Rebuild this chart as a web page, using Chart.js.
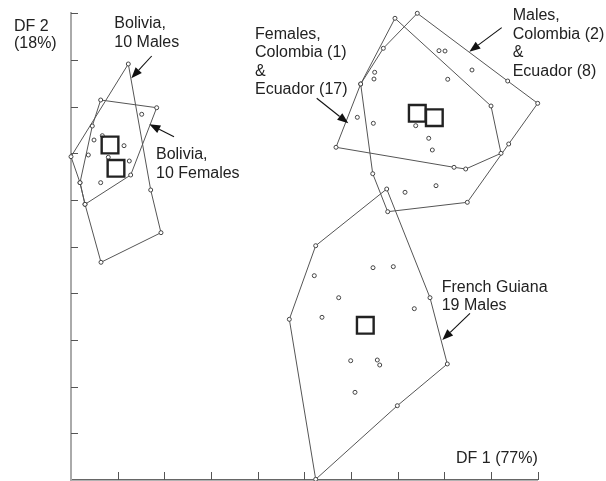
<!DOCTYPE html>
<html>
<head>
<meta charset="utf-8">
<script src="https://cdn.jsdelivr.net/npm/chart.js@4/dist/chart.umd.min.js"></script>
<style>
  body { margin:0; background:#fff; }
  canvas { display:block; }
</style>
</head>
<body>
<canvas id="dfa" width="606" height="481"></canvas>
<script>
// discriminant function scores, DF 1 (x) vs DF 2 (y)
// hull = convex hull vertices in drawing order, inner = remaining specimens
const bolMalesHull = [
  {x:1.228,y:8.914},{x:1.708,y:6.214},{x:1.928,y:5.299},{x:0.643,y:4.665},
  {x:0.300,y:5.907},{x:0.193,y:6.371},{x:0.000,y:6.928}
];
const bolMalesInner = [{x:0.636,y:6.371},{x:1.249,y:6.835},{x:0.371,y:6.964}];

const bolFemHull = [
  {x:0.636,y:8.142},{x:1.836,y:7.977},{x:1.279,y:6.535},{x:0.300,y:5.907},
  {x:0.193,y:6.371},{x:0.456,y:7.585}
];
const bolFemInner = [
  {x:1.515,y:7.836},{x:0.493,y:7.285},{x:0.671,y:7.378},{x:1.136,y:7.163},{x:0.799,y:6.915}
];

const colFemHull = [
  {x:6.942,y:9.893},{x:9.000,y:8.014},{x:9.214,y:7.000},{x:8.457,y:6.664},
  {x:8.207,y:6.700},{x:5.678,y:7.129},{x:6.207,y:8.485}
];
const colFemInner = [
  {x:7.885,y:9.199},{x:8.014,y:9.192},{x:8.592,y:8.785},{x:8.072,y:8.586},
  {x:6.507,y:8.736},{x:6.492,y:8.592},{x:6.135,y:7.771},{x:6.478,y:7.643},
  {x:7.386,y:7.592},{x:7.665,y:7.322},{x:7.742,y:7.071}
];

const colMalesHull = [
  {x:7.420,y:10.000},{x:9.357,y:8.549},{x:10.000,y:8.071},{x:9.379,y:7.200},
  {x:8.492,y:5.950},{x:6.786,y:5.749},{x:6.465,y:6.563},{x:6.207,y:8.485},
  {x:6.692,y:9.250}
];
const colMalesInner = [{x:7.157,y:6.165},{x:7.821,y:6.306}];

const fgHull = [
  {x:6.765,y:6.235},{x:7.692,y:3.906},{x:8.063,y:2.486},{x:6.992,y:1.592},
  {x:5.243,y:0.015},{x:4.678,y:3.443},{x:5.243,y:5.020}
];
const fgInner = [
  {x:5.213,y:4.378},{x:6.471,y:4.549},{x:6.906,y:4.571},{x:5.736,y:3.906},
  {x:7.356,y:3.671},{x:5.378,y:3.486},{x:5.993,y:2.556},{x:6.563,y:2.571},
  {x:6.615,y:2.464},{x:6.085,y:1.879}
];

// group centroids
const centroids = [
  {x:0.836,y:7.178},{x:0.964,y:6.679},
  {x:7.420,y:7.857},{x:7.785,y:7.763},
  {x:6.306,y:3.315}
];

const xTicks = [1,2,3,4,5,6,7,8,9,10];
const yTicks = [1,2,3,4,5,6,7,8,9,10];

// text and arrows, placed in data units
const notes = [
  { at:{x:0.928,y:9.679}, lines:['Bolivia,','10 Males'] },
  { at:{x:1.821,y:6.868}, lines:['Bolivia,','10 Females'] },
  { at:{x:3.943,y:9.460}, lines:['Females,','Colombia (1)','&','Ecuador (17)'] },
  { at:{x:9.464,y:9.857}, lines:['Males,','Colombia (2)','&','Ecuador (8)'] },
  { at:{x:7.943,y:4.035}, lines:['French Guiana','19 Males'] },
  { at:{x:8.250,y:0.358}, lines:['DF 1 (77%)'] },
  { at:{x:-1.221,y:9.627}, lines:['DF 2','(18%)'], lh:17 }
];
const arrows = [
  { from:{x:1.729,y:9.085}, to:{x:1.292,y:8.607} },
  { from:{x:2.207,y:7.356}, to:{x:1.678,y:7.622} },
  { from:{x:5.265,y:8.179}, to:{x:5.942,y:7.643} },
  { from:{x:9.229,y:9.692}, to:{x:8.535,y:9.177} },
  { from:{x:8.549,y:3.572}, to:{x:7.956,y:3.000} }
];

const closed = h => h.concat([h[0]]);
const hulls = [bolMalesHull, bolFemHull, colFemHull, colMalesHull, fgHull];
const specimens = [].concat(
  bolMalesHull, bolMalesInner, bolFemHull, bolFemInner,
  colFemHull, colFemInner, colMalesHull, colMalesInner, fgHull, fgInner
);

const datasets = [];
datasets.push({ label:'centroids', data:centroids, pointStyle:'rect', pointRadius:11.8,
  pointBorderWidth:2.4, pointBorderColor:'#222', pointBackgroundColor:'rgba(0,0,0,0)', order:0 });
datasets.push({ label:'specimens', data:specimens, pointStyle:'circle', pointRadius:2,
  pointBorderWidth:1, pointBorderColor:'#444', pointBackgroundColor:'#fff', order:1 });
hulls.forEach((h, i) => datasets.push({
  label:'hull'+i, data:closed(h), showLine:true, borderColor:'#555', borderWidth:1,
  pointRadius:0, tension:0, fill:false, order:2
}));

const annot = {
  id:'annot',
  afterDraw(chart) {
    const ctx = chart.ctx, xs = chart.scales.x, ys = chart.scales.y;
    const px = p => [xs.getPixelForValue(p.x), ys.getPixelForValue(p.y)];
    ctx.save();
    // inward tick marks
    ctx.strokeStyle = '#555'; ctx.lineWidth = 1;
    xTicks.forEach(v => {
      const x = Math.round(xs.getPixelForValue(v)) + 0.5;
      ctx.beginPath(); ctx.moveTo(x, ys.bottom); ctx.lineTo(x, ys.bottom - 8); ctx.stroke();
    });
    yTicks.forEach(v => {
      const y = Math.round(ys.getPixelForValue(v)) + 0.5;
      ctx.beginPath(); ctx.moveTo(xs.left, y); ctx.lineTo(xs.left + 7, y); ctx.stroke();
    });
    // labels
    ctx.fillStyle = '#222';
    ctx.font = '16px "Liberation Sans", Arial, sans-serif';
    ctx.textBaseline = 'alphabetic';
    notes.forEach(n => {
      const [x, y] = px(n.at);
      n.lines.forEach((t, i) => ctx.fillText(t, x, y + i * (n.lh || 18.6)));
    });
    // arrows
    ctx.strokeStyle = '#111'; ctx.fillStyle = '#111'; ctx.lineWidth = 1.1;
    arrows.forEach(a => {
      const [x1, y1] = px(a.from), [x2, y2] = px(a.to);
      const ang = Math.atan2(y2 - y1, x2 - x1), L = 11, W = 4.2;
      const bx = x2 - L * Math.cos(ang), by = y2 - L * Math.sin(ang);
      ctx.beginPath(); ctx.moveTo(x1, y1); ctx.lineTo(bx, by); ctx.stroke();
      ctx.beginPath();
      ctx.moveTo(x2, y2);
      ctx.lineTo(bx + W * Math.sin(ang), by - W * Math.cos(ang));
      ctx.lineTo(bx - W * Math.sin(ang), by + W * Math.cos(ang));
      ctx.closePath(); ctx.fill();
    });
    ctx.restore();
  }
};

new Chart(document.getElementById('dfa').getContext('2d'), {
  type:'scatter',
  data:{ datasets },
  options:{
    responsive:false, animation:false, clip:false,
    layout:{ autoPadding:false, padding:{ left:71, right:68.3, top:13.3, bottom:1 } },
    plugins:{ legend:{display:false}, tooltip:{enabled:false} },
    scales:{
      x:{ type:'linear', min:0, max:10,
          ticks:{display:false, stepSize:1},
          grid:{display:false, drawTicks:false},
          border:{display:true, color:'#666', width:1.5},
          afterFit(s) { s.height = 0; } },
      y:{ type:'linear', min:0, max:10,
          ticks:{display:false, stepSize:1},
          grid:{display:false, drawTicks:false},
          border:{display:true, color:'#aaa', width:2},
          afterFit(s) { s.width = 0; } }
    }
  },
  plugins:[annot]
});
</script>
</body>
</html>
